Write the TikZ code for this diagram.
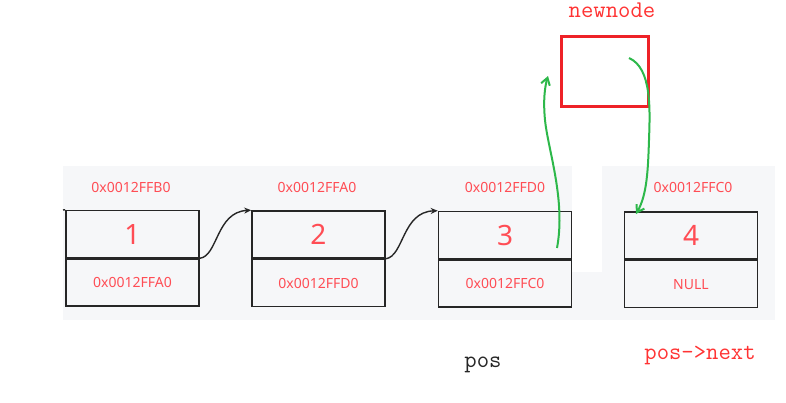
\documentclass[tikz,border=0pt]{standalone}
\usepackage{fontspec}
\setmainfont{Noto Sans}
\usetikzlibrary{arrows.meta}
\definecolor{txtred}{HTML}{FF4D55}
\definecolor{bgray}{HTML}{F6F7F9}
\definecolor{gline}{HTML}{2DB84A}
\definecolor{boxred}{HTML}{EE2228}
\definecolor{monored}{HTML}{FF3333}
\tikzset{
  cell/.style={draw=black!85, line width=1.6pt, minimum width=133pt, minimum height=47pt, inner sep=0pt, text=txtred},
  addr/.style={text=txtred, font=\fontsize{14}{16}\selectfont, inner sep=0pt},
  num/.style={font=\fontsize{28}{30}\selectfont},
  ptr/.style={font=\fontsize{14}{16}\selectfont},
  link/.style={-{Stealth[length=7pt,width=6pt]}, line width=1.4pt, draw=black!85},
  hand/.style={-{Straight Barb[length=7pt,width=9pt]}, line width=2pt, draw=gline},
  mono/.style={font=\ttfamily\fontsize{24}{26}\selectfont, inner sep=0pt}
}
\begin{document}
\begin{tikzpicture}[x=1pt,y=-1pt]
\useasboundingbox (0,0) rectangle (786,402);
\fill[white] (0,0) rectangle (786,402);
\fill[bgray] (63,166) rectangle (775,320);
\fill[white] (572,166) rectangle (602,272);
% boxes
\node[cell, num] (t1) at (132.5,234) {1};
\node[cell, ptr, anchor=north] (b1) at (t1.south) {0x0012FFA0};
\node[cell, num] (t2) at (318.5,234.5) {2};
\node[cell, ptr, anchor=north] (b2) at (t2.south) {0x0012FFD0};
\node[cell, num] (t3) at (505,235) {3};
\node[cell, ptr, anchor=north] (b3) at (t3.south) {0x0012FFC0};
\node[cell, num] (t4) at (691,235.5) {4};
\node[cell, ptr, anchor=north] (b4) at (t4.south) {NULL};
% addresses
\node[addr] (a1) at (131,187) {0x0012FFB0};
\node[addr] (a2) at (317,187) {0x0012FFA0};
\node[addr] (a3) at (505,187) {0x0012FFD0};
\node[addr] (a4) at (693,187) {0x0012FFC0};
% stub at left
\coordinate (stub) at (63,210);
\draw[line width=1.4pt, black!85] (stub) -- (t1.north west);
% links
\draw[link] (t1.south east) .. controls (218,256) and (216,212) .. (t2.north west);
\draw[link] (t2.south east) .. controls (404,256) and (402,212) .. (t3.north west);
% newnode
\node[draw=boxred, line width=3pt, minimum width=87pt, minimum height=70pt, inner sep=0pt] (nn) at (604.5,71) {};
\node[mono, text=monored] (nl) at (612,10) {newnode};
\node[mono, text=black!85] (pos) at (483,365) {pos};
\node[mono, text=monored] (pn) at (700,356) {pos->next};
% green hand-drawn arrows
\coordinate (g1s) at (557,248);
\coordinate (g1e) at (548,76);
\draw[hand] (g1s) .. controls (566,200) and (548,150) .. (545,120) .. controls (543,100) and (545,86) .. (g1e);
\coordinate (g2s) at (629,58);
\coordinate (g2e) at (636,214);
\draw[hand] (g2s) .. controls (652,68) and (650,110) .. (649,140) .. controls (648,170) and (647,195) .. (g2e);
\end{tikzpicture}
\end{document}
